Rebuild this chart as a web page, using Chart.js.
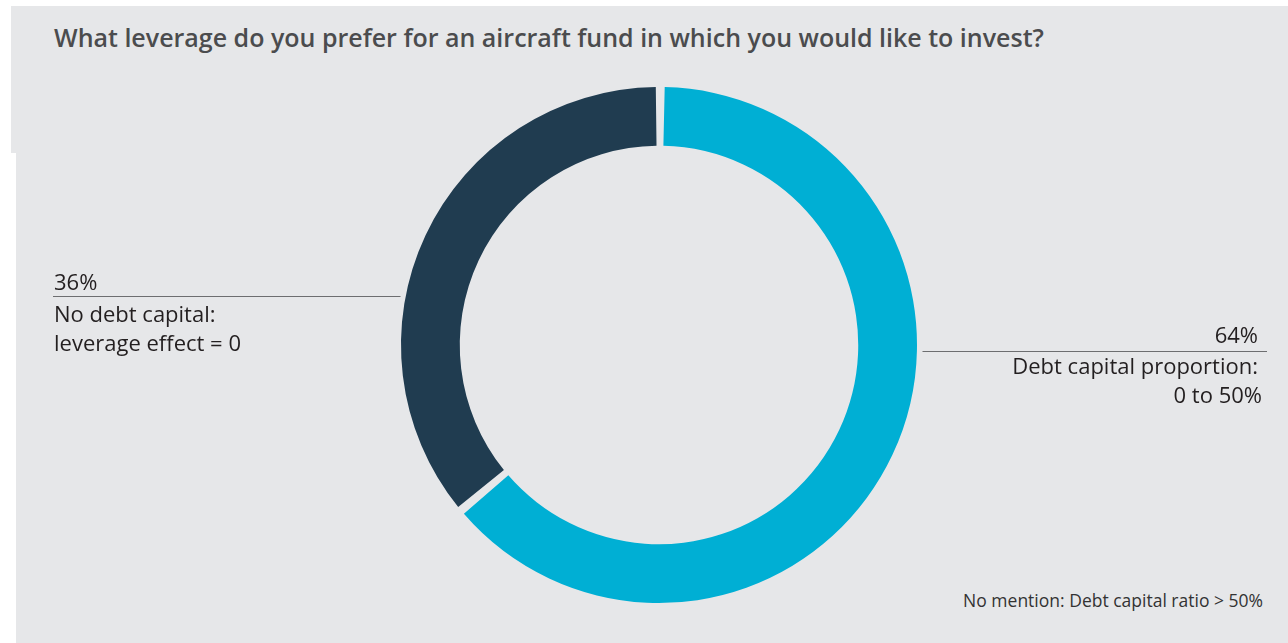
<!DOCTYPE html>
<html>
<head>
<meta charset="utf-8">
<script src="https://cdn.jsdelivr.net/npm/chart.js@4.4.0/dist/chart.umd.min.js"></script>
<style>
    body { margin: 0; background: #fff; width: 1288px; height: 643px; position: relative; overflow: hidden; }
    .bg-top { position: absolute; left: 11px; top: 6px; width: 1277px; height: 147px; background: #e6e7e9; }
    .bg-bottom { position: absolute; left: 16px; top: 153px; width: 1272px; height: 490px; background: #e6e7e9; }
    .title { position: absolute; left: 54px; top: 20px; font: 600 25px "Open Sans", sans-serif; color: #4b4c4e; white-space: nowrap; }
    .note { position: absolute; right: 25px; top: 588px; font: 17.5px "Open Sans", sans-serif; color: #333; white-space: nowrap; }
    #chartBox { position: absolute; left: 0; top: 0; width: 1288px; height: 643px; }
</style>
</head>
<body>
<div class="bg-top"></div>
<div class="bg-bottom"></div>
<div class="title">What leverage do you prefer for an aircraft fund in which you would like to invest?</div>
<div class="note">No mention: Debt capital ratio &gt; 50%</div>
<div id="chartBox"><canvas id="leverageChart"></canvas></div>
<script>
    // Survey data
    const categories = ["Debt capital proportion: 0 to 50%", "No debt capital: leverage effect = 0"];
    const shares = [64, 36];
    const labelLines = [["Debt capital proportion:", "0 to 50%"], ["No debt capital:", "leverage effect = 0"]];
    const colors = ['#00afd4', '#203c50'];

    // Callout labels next to the ring
    const calloutPlugin = {
        id: 'callouts',
        afterDraw(chart) {
            const ctx = chart.ctx;
            const arc = chart.getDatasetMeta(0).data[0];
            const cx = arc.x, cy = arc.y, r = arc.outerRadius;
            ctx.save();
            ctx.font = '22px "Open Sans", sans-serif';
            ctx.fillStyle = '#231f20';
            ctx.strokeStyle = '#6d6e70';
            ctx.lineWidth = 1;
            ctx.textBaseline = 'middle';

            // right label (first slice)
            let lineY = cy + 6;
            ctx.beginPath();
            ctx.moveTo(cx + r + 8, lineY + 0.5);
            ctx.lineTo(1267, lineY + 0.5);
            ctx.stroke();
            ctx.textAlign = 'right';
            ctx.fillText(shares[0] + '%', 1258, lineY - 14);
            ctx.fillText(labelLines[0][0], 1258, lineY + 17);
            ctx.fillText(labelLines[0][1], 1262, lineY + 46);

            // left label (second slice)
            lineY = cy - 49;
            ctx.beginPath();
            ctx.moveTo(53, lineY + 0.5);
            ctx.lineTo(cx - r - 3, lineY + 0.5);
            ctx.stroke();
            ctx.textAlign = 'left';
            ctx.fillText(shares[1] + '%', 54, lineY - 12);
            ctx.fillText(labelLines[1][0], 54, lineY + 20);
            ctx.fillText(labelLines[1][1], 54, lineY + 49);
            ctx.restore();
        }
    };

    const leverageCtx = document.getElementById('leverageChart').getContext('2d');
    new Chart(leverageCtx, {
        type: 'doughnut',
        data: {
            labels: categories,
            datasets: [{
                data: shares,
                backgroundColor: colors,
                borderWidth: 0,
                spacing: 5,
            }]
        },
        options: {
            responsive: true,
            maintainAspectRatio: false,
            animation: false,
            cutout: '77%',
            rotation: 0,
            plugins: {
                legend: { display: false },
                tooltip: { enabled: false }
            },
            layout: {
                padding: {
                    top: 87,
                    bottom: 40,
                    left: 401,
                    right: 371,
                }
            }
        },
        plugins: [calloutPlugin]
    });
</script>
</body>
</html>
